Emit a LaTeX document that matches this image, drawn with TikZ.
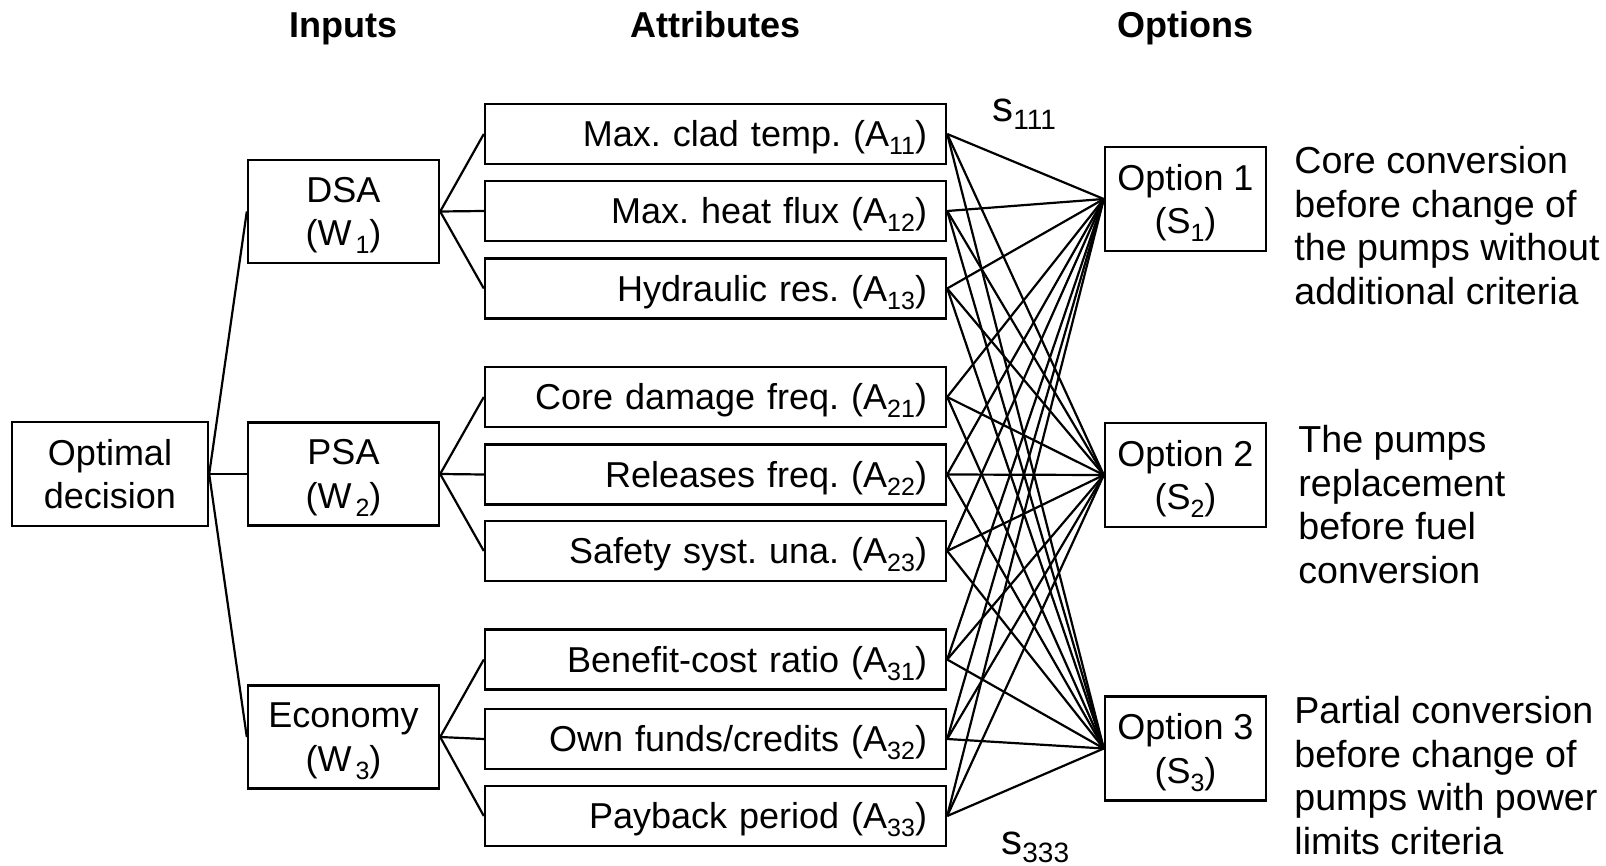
\documentclass[tikz,border=0pt]{standalone}
\usepackage{fontspec}
\setmainfont{Liberation Sans}
% lowered, smaller index text
\newcommand\idx[1]{\raisebox{-4pt}{\fontsize{12.5}{13}\selectfont #1}}
\newcommand\bigidx[1]{\raisebox{-4pt}{\fontsize{14}{15}\selectfont #1}}
\begin{document}
\frenchspacing
\begin{tikzpicture}[x=0.5pt,y=-0.5pt,
  every node/.style={font=\fontsize{18}{21.75}\selectfont, inner sep=0pt},
  wire/.style={line width=1.1pt},
  box/.style={draw, line width=1.2pt, align=center},
  rootbox/.style={box, minimum width=98pt, minimum height=52pt},
  inbox/.style={box, minimum width=95.5pt, minimum height=51.5pt},
  attrbox/.style={draw, line width=1.2pt, minimum width=230.5pt, minimum height=30pt,
    text width=211.5pt, inner xsep=9.5pt, align=right, text height=12.9pt, text depth=0pt},
  optbox/.style={box, minimum width=80.5pt, minimum height=52pt},
  head/.style={font=\fontsize{18}{21.75}\selectfont\bfseries, anchor=base},
  note/.style={anchor=north west, align=left, font=\fontsize{18.8}{21.75}\selectfont},
  slabel/.style={anchor=base west, font=\fontsize{21}{24}\selectfont}
]
\useasboundingbox (0,0) rectangle (1606,866);

% column headings
\node[head] (hin)  at (343.5,38) {Inputs};
\node[head] (hatt) at (715.5,38) {Attributes};
\node[head] (hopt) at (1185.5,38) {Options};

% goal and inputs
\node[rootbox] (goal) at (110,474) {Optimal\\\smash{decision}};
\node[inbox] (dsa) at (343.5,211.5) {DSA\\\smash{(W\hspace{2pt}\idx{1})}};
\node[inbox] (psa) at (343.5,474) {PSA\\\smash{(W\hspace{2pt}\idx{2})}};
\node[inbox] (eco) at (343.5,737) {Economy\\\smash{(W\hspace{2pt}\idx{3})}};

% attributes
\node[attrbox] (a11) at (715.5,134)   {Max. clad temp. (A\idx{11})};
\node[attrbox] (a12) at (715.5,211)   {Max. heat flux (A\idx{12})};
\node[attrbox] (a13) at (715.5,288.5) {Hydraulic res. (A\idx{13})};
\node[attrbox] (a21) at (715.5,397)   {Core damage freq. (A\idx{21})};
\node[attrbox] (a22) at (715.5,474.5) {Releases freq. (A\idx{22})};
\node[attrbox] (a23) at (715.5,551)   {Safety syst. una. (A\idx{23})};
\node[attrbox] (a31) at (715.5,659.5) {Benefit-cost ratio (A\idx{31})};
\node[attrbox] (a32) at (715.5,739)   {Own funds/credits (A\idx{32})};
\node[attrbox] (a33) at (715.5,816)   {Payback period (A\idx{33})};

% options
\node[optbox] (o1) at (1185.5,199)   {Option 1\\\smash{(S\idx{1})}};
\node[optbox] (o2) at (1185.5,475)   {Option 2\\\smash{(S\idx{2})}};
\node[optbox] (o3) at (1185.5,748.5) {Option 3\\\smash{(S\idx{3})}};

% option descriptions
\node[note] (d1) at (1294,146) {Core conversion\\before change of\\the pumps without\\additional criteria};
\node[note] (d2) at (1298,425) {The pumps\\replacement\\before fuel\\conversion};
\node[note] (d3) at (1294,696) {Partial conversion\\before change of\\pumps with power\\limits criteria};

% score labels
\node[slabel] (s111) at (992,122) {s\bigidx{111}};
\node[slabel] (s333) at (1001,854) {s\bigidx{333}};

% goal to inputs
\foreach \i in {dsa,psa,eco} \draw[wire] (goal.east) -- (\i.west);
% inputs to attributes
\foreach \a in {a11,a12,a13} \draw[wire] (dsa.east) -- (\a.west);
\foreach \a in {a21,a22,a23} \draw[wire] (psa.east) -- (\a.west);
\foreach \a in {a31,a32,a33} \draw[wire] (eco.east) -- (\a.west);
% every attribute to every option
\foreach \a in {a11,a12,a13,a21,a22,a23,a31,a32,a33}
  \foreach \o in {o1,o2,o3}
    \draw[wire] (\a.east) -- (\o.west);
\end{tikzpicture}
\end{document}
